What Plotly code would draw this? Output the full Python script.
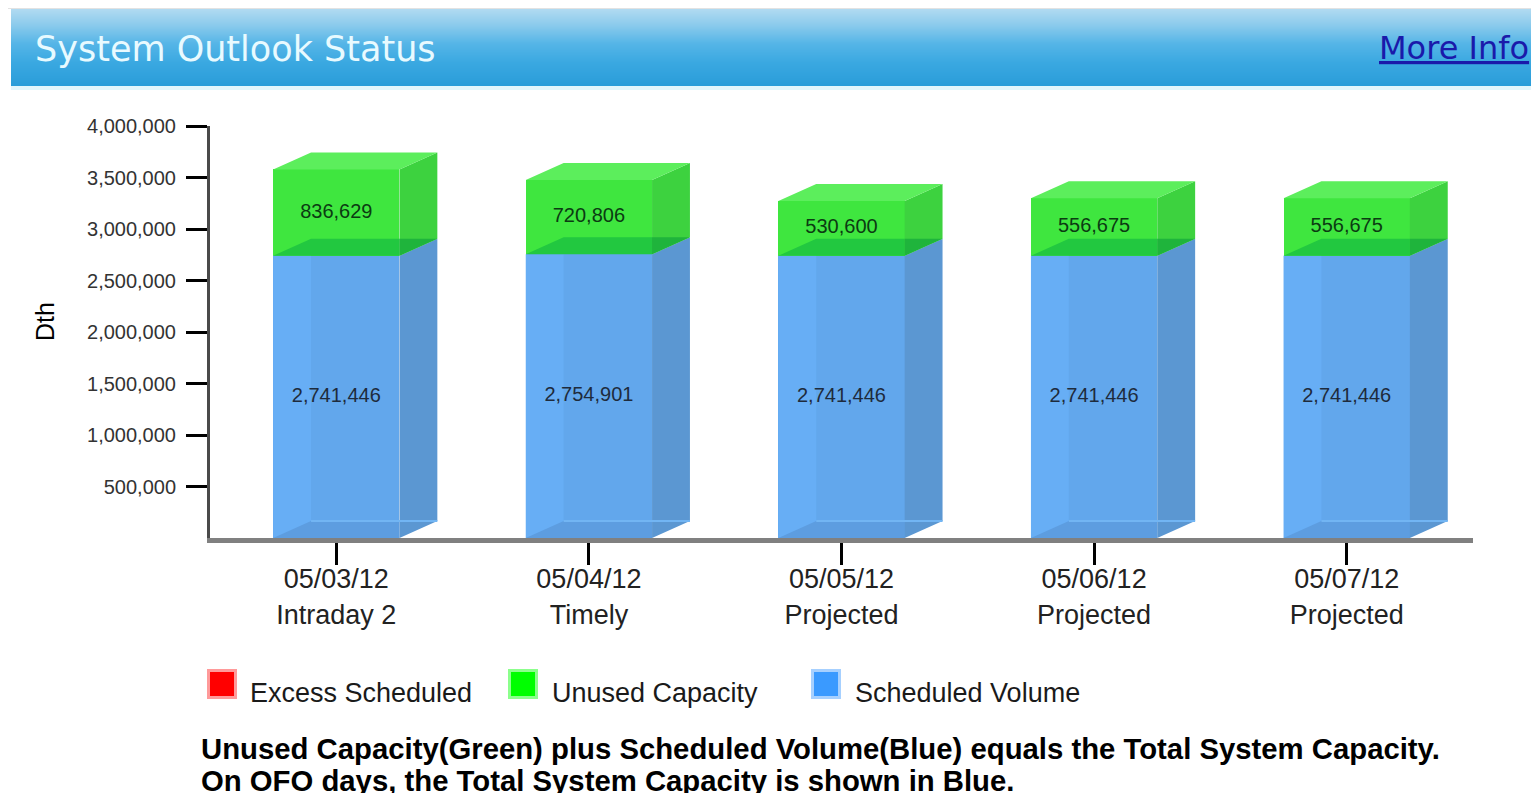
import plotly.graph_objects as go

# ---------------- data ----------------
dates = ["05/03/12", "05/04/12", "05/05/12", "05/06/12", "05/07/12"]
status = ["Intraday 2", "Timely", "Projected", "Projected", "Projected"]
scheduled_volume = [2741446, 2754901, 2741446, 2741446, 2741446]
unused_capacity = [836629, 720806, 530600, 556675, 556675]
excess_scheduled = [0, 0, 0, 0, 0]
series_names = ["Excess Scheduled", "Unused Capacity", "Scheduled Volume"]
y_ticks = [500000, 1000000, 1500000, 2000000, 2500000, 3000000, 3500000, 4000000]
y_max = 4000000
title_text = "System Outlook Status"
link_text = "More Info"
y_title = "Dth"
footnote_lines = [
    "Unused Capacity(Green) plus Scheduled Volume(Blue) equals the Total System Capacity.",
    "On OFO days, the Total System Capacity is shown in Blue.",
]

# ---------------- style ----------------
FONT = "Liberation Sans, Arial, sans-serif"
BANNER_FONT = "DejaVu Sans, Verdana, sans-serif"
RED = "#FF0000"
BLUE_FRONT = "#62A7EC"
BLUE_LEFT = "#67AEF5"
BLUE_SIDE = "#5B97D2"
BLUE_BOTTOM = "#5D9DE0"
BLUE_EDGE = "#72B5F3"
GREEN_FRONT = "#3FE63F"
GREEN_TOP = "#5CEE5C"
GREEN_SIDE = "#3DD23F"
BAND_FRONT = "#22C840"
BAND_SIDE = "#1FB43C"

BAR_W = 0.5
DX = 0.15                    # 3D depth in category units
DY = y_max * 17 / 412        # 3D depth in value units

# plot area in reference-page pixels; OFF compensates the page's body margin
OFF = 8
FW, FH = 1539, 793
L, R, T, B = 210, 1473, 126, 538
W, H = R - L, B - T


def px_x(x):
    return (x - L) / W


def px_y(y):
    return (B - y) / H


xs = list(range(len(dates)))
tick_text = [f"{d}<br>{s}" for d, s in zip(dates, status)]

fig = go.Figure()

# front faces (real stacked bars)
fig.add_trace(go.Bar(
    x=xs, y=scheduled_volume, width=BAR_W, name=series_names[2],
    marker=dict(color=BLUE_FRONT, line=dict(width=0)),
    showlegend=False, hoverinfo="skip",
))
fig.add_trace(go.Bar(
    x=xs, y=unused_capacity, width=BAR_W, name=series_names[1],
    marker=dict(color=GREEN_FRONT, line=dict(width=0)),
    showlegend=False, hoverinfo="skip",
))
fig.add_trace(go.Bar(
    x=xs, y=excess_scheduled, width=BAR_W, name=series_names[0],
    marker=dict(color=RED, line=dict(width=0)),
    showlegend=False, hoverinfo="skip",
))


def poly_trace(polys, color):
    px, py = [], []
    for pts in polys:
        for (a, b) in pts:
            px.append(a)
            py.append(b)
        px.append(pts[0][0])
        py.append(pts[0][1])
        px.append(None)
        py.append(None)
    return go.Scatter(x=px, y=py, mode="lines", fill="toself", fillcolor=color,
                      line=dict(width=0, color=color), hoverinfo="skip",
                      showlegend=False)


left_strip, bottom, blue_side, green_side, green_top, band_f, band_s = [], [], [], [], [], [], []
edge_x, edge_y = [], []
for i, (s, u, e) in enumerate(zip(scheduled_volume, unused_capacity, excess_scheduled)):
    x0, x1 = xs[i] - BAR_W / 2, xs[i] + BAR_W / 2
    b = s
    t = s + u + e
    left_strip.append([(x0, 0), (x0 + DX, 0), (x0 + DX, b), (x0, b)])
    bottom.append([(x0, 0), (x0 + DX, DY), (x1, DY), (x1, 0)])
    blue_side.append([(x1, 0), (x1 + DX, DY), (x1 + DX, b + DY), (x1, b)])
    green_side.append([(x1, b), (x1 + DX, b + DY), (x1 + DX, t + DY), (x1, t)])
    green_top.append([(x0, t), (x0 + DX, t + DY), (x1 + DX, t + DY), (x1, t)])
    band_f.append([(x0, b), (x0 + DX, b + DY), (x1, b + DY), (x1, b)])
    band_s.append([(x1, b), (x1 + DX, b + DY), (x1, b + DY)])
    edge_x += [x0 + DX, x1 + DX, None]
    edge_y += [DY, DY, None]

fig.add_trace(poly_trace(left_strip, BLUE_LEFT))
fig.add_trace(poly_trace(bottom, BLUE_BOTTOM))
fig.add_trace(poly_trace(blue_side, BLUE_SIDE))
fig.add_trace(go.Scatter(x=edge_x, y=edge_y, mode="lines",
                         line=dict(color=BLUE_EDGE, width=2),
                         hoverinfo="skip", showlegend=False))
fig.add_trace(poly_trace(green_side, GREEN_SIDE))
fig.add_trace(poly_trace(green_top, GREEN_TOP))
fig.add_trace(poly_trace(band_f, BAND_FRONT))
fig.add_trace(poly_trace(band_s, BAND_SIDE))

# value labels, on top of all faces
fig.add_trace(go.Scatter(
    x=xs, y=[s / 2 for s in scheduled_volume], mode="text",
    text=[f"{v:,}" for v in scheduled_volume], textposition="middle center",
    textfont=dict(family=FONT, size=20, color="#1E2B3C"),
    hoverinfo="skip", showlegend=False, cliponaxis=False))
fig.add_trace(go.Scatter(
    x=xs, y=[s + u / 2 for s, u in zip(scheduled_volume, unused_capacity)], mode="text",
    text=[f"{v:,}" for v in unused_capacity], textposition="middle center",
    textfont=dict(family=FONT, size=20, color="#0B3B12"),
    hoverinfo="skip", showlegend=False, cliponaxis=False))

# ---------------- decorations ----------------
shapes = []


def hexrgb(h):
    h = h.lstrip("#")
    return tuple(int(h[k:k + 2], 16) for k in (0, 2, 4))


stops = [(0.0, "#B0DAF1"), (0.2, "#8CCBEC"), (0.45, "#55B5E7"),
         (0.7, "#3AA8E1"), (1.0, "#2A9DD9")]


def grad(tt):
    for (a, ca), (b, cb) in zip(stops[:-1], stops[1:]):
        if a <= tt <= b:
            f = (tt - a) / (b - a)
            c1, c2 = hexrgb(ca), hexrgb(cb)
            return "rgb(%d,%d,%d)" % tuple(round(c1[k] + (c2[k] - c1[k]) * f) for k in range(3))
    return stops[-1][1]


# top grey rule
shapes.append(dict(type="rect", xref="paper", yref="paper",
                   x0=px_x(0), x1=px_x(1560), y0=px_y(8.5), y1=px_y(6),
                   fillcolor="#C6C6C6", line=dict(width=0), layer="above"))
# gradient banner
top, bot = 9, 86
n = bot - top
for k in range(n):
    yy = top + k
    shapes.append(dict(type="rect", xref="paper", yref="paper",
                       x0=px_x(11), x1=px_x(1560), y0=px_y(yy + 1.6), y1=px_y(yy),
                       fillcolor=grad(k / (n - 1)), line=dict(width=0), layer="above"))
shapes.append(dict(type="rect", xref="paper", yref="paper",
                   x0=px_x(11), x1=px_x(1560), y0=px_y(90), y1=px_y(86),
                   fillcolor="#E2F6FC", line=dict(width=0), layer="above"))

# legend swatches
legend_items = [(series_names[0], RED, "#FF9A9A", 207, 248),
                (series_names[1], "#00FF00", "#8CFF8C", 508, 550),
                (series_names[2], "#3A9AFF", "#A6D0FF", 811, 853)]
annotations = []
for name, col, border, sx, tx in legend_items:
    shapes.append(dict(type="rect", xref="paper", yref="paper",
                       x0=px_x(sx + 1.5), x1=px_x(sx + 28.5), y0=px_y(697.5), y1=px_y(670.5),
                       fillcolor=col, line=dict(width=3, color=border), layer="above"))
    annotations.append(dict(xref="paper", yref="paper", x=px_x(tx), y=px_y(693),
                            xanchor="left", yanchor="middle", showarrow=False,
                            text=name, font=dict(family=FONT, size=27, color="#1A1A1A")))

annotations.append(dict(xref="paper", yref="paper", x=px_x(33), y=px_y(49),
                        xanchor="left", yanchor="middle", showarrow=False,
                        text=title_text,
                        font=dict(family=BANNER_FONT, size=35, color="#E8FAFF")))
annotations.append(dict(xref="paper", yref="paper", x=px_x(1531), y=px_y(48),
                        xanchor="right", yanchor="middle", showarrow=False,
                        text=f"<u>{link_text}</u>",
                        font=dict(family=BANNER_FONT, size=32, color="#1A1AAA")))
annotations.append(dict(xref="paper", yref="paper", x=px_x(45), y=px_y(322),
                        xanchor="center", yanchor="middle", showarrow=False,
                        text=y_title, textangle=-90,
                        font=dict(family=FONT, size=25, color="#000000")))
for line, yc in zip(footnote_lines, [748, 780]):
    annotations.append(dict(xref="paper", yref="paper", x=px_x(199), y=px_y(yc),
                            xanchor="left", yanchor="middle", showarrow=False,
                            text=f"<b>{line}</b>",
                            font=dict(family=FONT, size=29.3, color="#000000")))

fig.update_layout(
    width=FW, height=FH, autosize=False,
    margin=dict(l=L - OFF, r=FW - (R - OFF), t=T - OFF, b=FH - (B - OFF), pad=0),
    barmode="stack", bargap=0.5,
    paper_bgcolor="white", plot_bgcolor="white",
    font=dict(family=FONT, color="#222222"),
    shapes=shapes, annotations=annotations,
    showlegend=False,
    xaxis=dict(range=[-0.5, len(dates) - 0.5], tickmode="array", tickvals=xs,
               ticktext=tick_text, ticks="outside", ticklen=22, tickwidth=3,
               tickcolor="#000000", showline=True, linecolor="#808080", linewidth=5,
               showgrid=False, zeroline=False, ticklabelstandoff=-9,
               tickfont=dict(family=FONT, size=27, color="#222222")),
    yaxis=dict(range=[0, y_max], tickmode="array", tickvals=y_ticks,
               tickformat=",d", ticks="outside", ticklen=21, tickwidth=3,
               tickcolor="#000000", showline=True, linecolor="#4A4A4A", linewidth=3,
               showgrid=False, zeroline=False, ticklabelstandoff=6,
               tickfont=dict(family=FONT, size=20, color="#333333")),
)

fig.write_html("out.html")
